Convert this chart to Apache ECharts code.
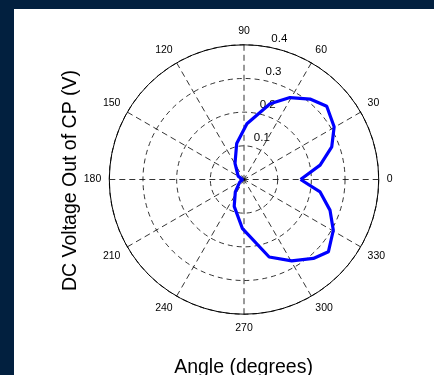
<!DOCTYPE html>
<html><head><meta charset="utf-8">
<script src="https://cdn.jsdelivr.net/npm/echarts@6/dist/echarts.min.js"></script>
<style>
html,body{margin:0;padding:0;background:#02203f;width:434px;height:375px;overflow:hidden;}
#c{position:absolute;left:14px;top:9px;width:420px;height:366px;background:#fff;}
</style></head><body>
<div id="c"></div>
<script>
// Pattern: angle (deg) and DC voltage (V)
const angleDeg = [0, 10.7, 20.4, 30.3, 41.5, 50.6, 60.7, 71, 87, 101.5, 119, 150, 180,
                  212, 235, 250, 268, 288, 300.4, 311.3, 319.4, 330.4, 340.4, 350.7, 360];
const voltage  = [0.168, 0.230, 0.278, 0.310, 0.328, 0.309, 0.279, 0.238, 0.166, 0.109, 0.055, 0.02, 0.004,
                  0.015, 0.045, 0.085, 0.145, 0.242, 0.280, 0.312, 0.330, 0.305, 0.271, 0.229, 0.168];
const angleTicks = [0, 30, 60, 90, 120, 150, 180, 210, 240, 270, 300, 330];
const radiusTicks = [0.1, 0.2, 0.3, 0.4];

const FONT = "'Liberation Sans', Arial, sans-serif";
const chart = echarts.init(document.getElementById('c'), null, {renderer: 'canvas'});
const center = [230, 170.5];
const R = 134.7;
const seriesData = angleDeg.map((a, i) => [voltage[i], a]);

chart.setOption({
  animation: false,
  polar: [{center: center, radius: R}, {center: center, radius: R}],
  angleAxis: [{
    polarIndex: 0, type: 'value', min: 0, max: 360, interval: 30, startAngle: 0, clockwise: false,
    axisLine: {show: true, lineStyle: {color: '#000', width: 1}},
    axisTick: {show: false},
    axisLabel: {show: true, margin: 8, color: '#000', fontSize: 10.5, fontFamily: FONT,
      formatter: v => angleTicks.indexOf(v) >= 0 ? String(v) : ''},
    splitLine: {show: true, lineStyle: {color: '#000', width: 0.8, type: [6, 4]}}
  }, {
    polarIndex: 1, type: 'value', min: 0, max: 360, startAngle: 80, clockwise: false, show: false
  }],
  radiusAxis: [{
    polarIndex: 0, type: 'value', min: 0, max: 0.4, interval: 0.1,
    axisLine: {show: false}, axisTick: {show: false}, axisLabel: {show: false},
    splitLine: {show: true, lineStyle: {color: '#000', width: 0.8, type: [5, 4]}}
  }, {
    polarIndex: 1, type: 'value', min: 0, max: 0.4, interval: 0.1,
    axisLine: {show: false}, axisTick: {show: false}, splitLine: {show: false},
    axisLabel: {show: true, color: '#000', fontSize: 11.5, fontFamily: FONT, margin: -4,
      align: 'left', verticalAlign: 'bottom', padding: [0, 0, 3, 0],
      formatter: v => radiusTicks.some(t => Math.abs(t - v) < 1e-9) ? String(Math.round(v * 10) / 10) : ''}
  }],
  series: [{
    type: 'line', coordinateSystem: 'polar', polarIndex: 0,
    data: seriesData, showSymbol: false, symbol: 'none', smooth: false,
    lineStyle: {color: '#0000ff', width: 3.2}, z: 5
  }],
  graphic: [
    {type: 'text', x: 56.5, y: 171.5, rotation: Math.PI / 2,
      style: {text: 'DC Voltage Out of CP (V)', font: '19.5px ' + FONT, fill: '#000',
        textAlign: 'center', textVerticalAlign: 'middle'}},
    {type: 'text', x: 229.5, y: 358.5,
      style: {text: 'Angle (degrees)', font: '19.5px ' + FONT, fill: '#000',
        textAlign: 'center', textVerticalAlign: 'middle'}}
  ]
});
</script>
</body></html>
